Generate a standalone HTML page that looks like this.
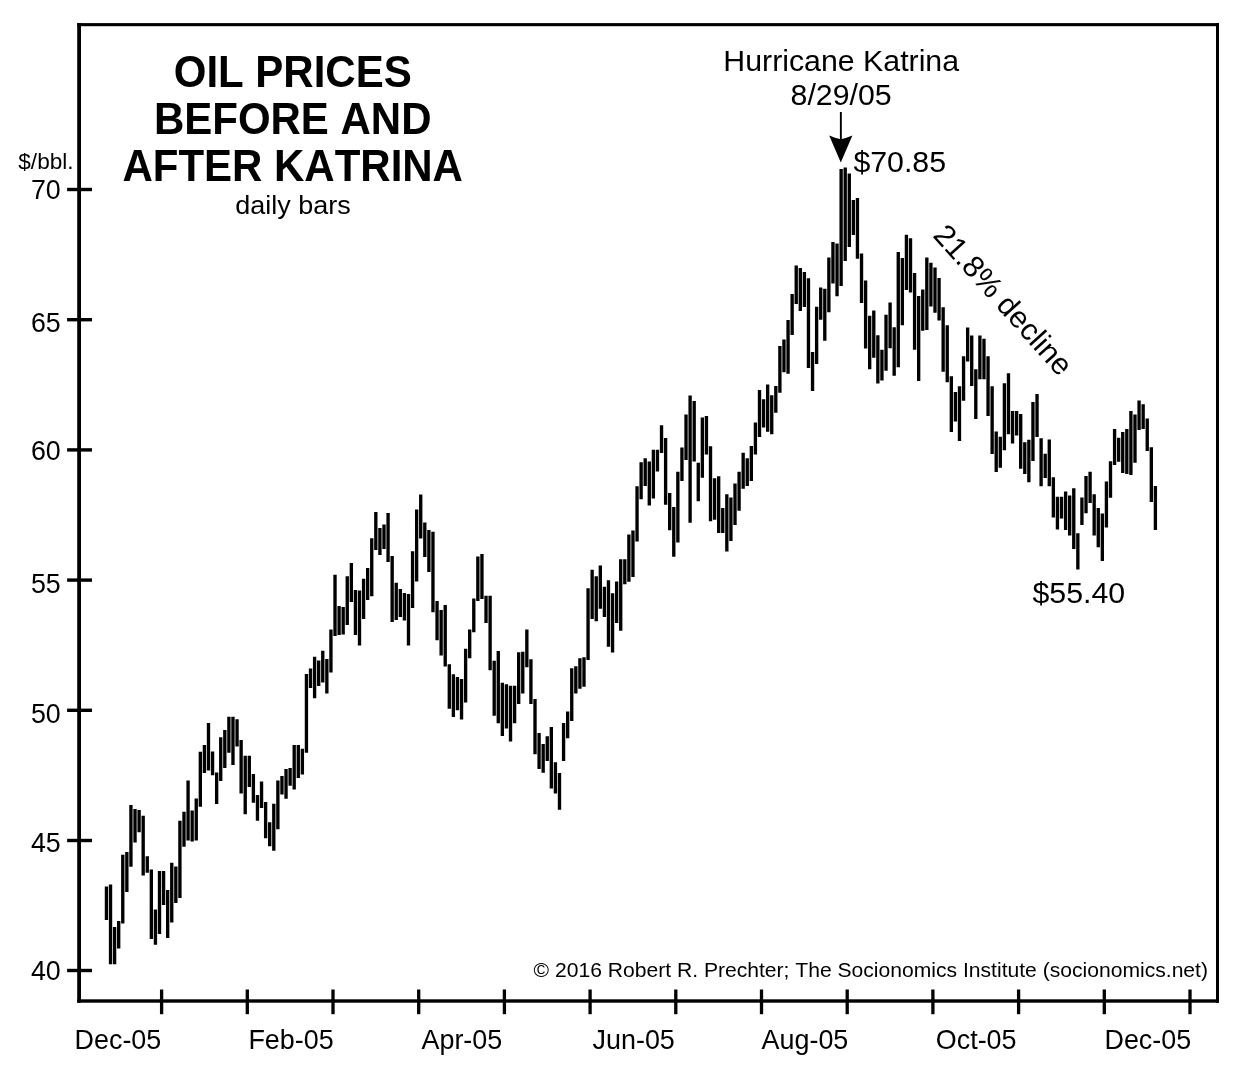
<!DOCTYPE html>
<html><head><meta charset="utf-8"><title>Oil Prices Before and After Katrina</title>
<style>
html,body{margin:0;padding:0;background:#fff;overflow:hidden;width:1244px;height:1072px;}
svg{display:block;}
text{font-family:"Liberation Sans",Arial,Helvetica,sans-serif;fill:#000;font-kerning:none;}
</style></head><body>
<svg width="1244" height="1072" viewBox="0 0 1244 1072">
<rect x="0" y="0" width="1244" height="1072" fill="#fff"/>

<g fill="#000">
<rect x="77.2" y="23.1" width="3.8" height="979.6"/>
<rect x="77.2" y="23.1" width="1141.8" height="3.1"/>
<rect x="1216" y="23.1" width="3" height="979.6"/>
<rect x="77.2" y="999.3" width="1141.8" height="3.4"/>
<rect x="67.1" y="187.8" width="24.9" height="3.4"/>
<rect x="67.1" y="318.0" width="24.9" height="3.4"/>
<rect x="67.1" y="448.2" width="24.9" height="3.4"/>
<rect x="67.1" y="578.4" width="24.9" height="3.4"/>
<rect x="67.1" y="708.6" width="24.9" height="3.4"/>
<rect x="67.1" y="838.8" width="24.9" height="3.4"/>
<rect x="67.1" y="968.8" width="24.9" height="3.4"/>
<rect x="159.95" y="989.5" width="3.3" height="24.7"/>
<rect x="245.65" y="989.5" width="3.3" height="24.7"/>
<rect x="331.35" y="989.5" width="3.3" height="24.7"/>
<rect x="417.05" y="989.5" width="3.3" height="24.7"/>
<rect x="502.75" y="989.5" width="3.3" height="24.7"/>
<rect x="588.45" y="989.5" width="3.3" height="24.7"/>
<rect x="674.15" y="989.5" width="3.3" height="24.7"/>
<rect x="759.85" y="989.5" width="3.3" height="24.7"/>
<rect x="845.55" y="989.5" width="3.3" height="24.7"/>
<rect x="931.25" y="989.5" width="3.3" height="24.7"/>
<rect x="1016.95" y="989.5" width="3.3" height="24.7"/>
<rect x="1102.65" y="989.5" width="3.3" height="24.7"/>
<rect x="1188.35" y="989.5" width="3.3" height="24.7"/>
</g>
<path fill="#000" d="M104.78 886.5h3.35V920.0h-3.35zM108.86 884.4h3.35V964.2h-3.35zM112.94 927.1h3.35V964.2h-3.35zM117.02 921.0h3.35V948.6h-3.35zM121.10 854.7h3.35V923.4h-3.35zM125.18 851.9h3.35V892.1h-3.35zM129.26 805.1h3.35V866.8h-3.35zM133.35 809.1h3.35V842.6h-3.35zM137.43 810.1h3.35V832.2h-3.35zM141.51 815.7h3.35V875.4h-3.35zM145.59 856.3h3.35V872.8h-3.35zM149.67 869.4h3.35V939.1h-3.35zM153.75 909.6h3.35V944.7h-3.35zM157.83 871.0h3.35V934.1h-3.35zM161.92 871.0h3.35V904.9h-3.35zM166.00 889.9h3.35V938.1h-3.35zM170.08 862.7h3.35V922.4h-3.35zM174.16 866.4h3.35V902.9h-3.35zM178.24 820.7h3.35V897.9h-3.35zM182.32 811.7h3.35V846.7h-3.35zM186.40 780.4h3.35V840.6h-3.35zM190.49 810.5h3.35V841.6h-3.35zM194.57 798.6h3.35V840.6h-3.35zM198.65 751.8h3.35V806.7h-3.35zM202.73 745.0h3.35V772.9h-3.35zM206.81 722.9h3.35V770.5h-3.35zM210.89 751.6h3.35V775.3h-3.35zM214.98 772.5h3.35V804.1h-3.35zM219.06 737.2h3.35V781.0h-3.35zM223.14 730.1h3.35V767.9h-3.35zM227.22 716.7h3.35V752.8h-3.35zM231.30 716.7h3.35V764.9h-3.35zM235.38 719.3h3.35V746.4h-3.35zM239.46 740.0h3.35V793.4h-3.35zM243.55 755.7h3.35V814.3h-3.35zM247.63 755.7h3.35V787.0h-3.35zM251.71 774.1h3.35V802.7h-3.35zM255.79 795.0h3.35V820.8h-3.35zM259.87 781.6h3.35V808.1h-3.35zM263.95 801.9h3.35V838.3h-3.35zM268.03 822.2h3.35V846.3h-3.35zM272.12 803.7h3.35V850.7h-3.35zM276.20 780.6h3.35V829.2h-3.35zM280.28 776.0h3.35V794.6h-3.35zM284.36 768.9h3.35V798.7h-3.35zM288.44 767.9h3.35V785.8h-3.35zM292.52 745.0h3.35V789.6h-3.35zM296.61 745.0h3.35V778.0h-3.35zM300.69 748.8h3.35V774.5h-3.35zM304.77 674.1h3.35V752.8h-3.35zM308.85 668.4h3.35V687.9h-3.35zM312.93 656.8h3.35V698.2h-3.35zM317.01 660.6h3.35V685.9h-3.35zM321.09 650.8h3.35V682.5h-3.35zM325.18 659.0h3.35V693.6h-3.35zM329.26 629.6h3.35V672.6h-3.35zM333.34 574.8h3.35V636.0h-3.35zM337.42 606.1h3.35V635.0h-3.35zM341.50 607.1h3.35V634.6h-3.35zM345.58 576.2h3.35V625.0h-3.35zM349.67 563.1h3.35V601.9h-3.35zM353.75 590.0h3.35V635.0h-3.35zM357.83 590.4h3.35V645.5h-3.35zM361.91 578.8h3.35V619.0h-3.35zM365.99 567.9h3.35V600.1h-3.35zM370.07 538.2h3.35V596.3h-3.35zM374.15 512.1h3.35V550.0h-3.35zM378.24 528.1h3.35V555.1h-3.35zM382.32 524.5h3.35V549.0h-3.35zM386.40 513.1h3.35V561.9h-3.35zM390.48 555.9h3.35V622.0h-3.35zM394.56 582.8h3.35V620.0h-3.35zM398.64 589.0h3.35V617.0h-3.35zM402.72 593.0h3.35V620.6h-3.35zM406.81 594.0h3.35V645.5h-3.35zM410.89 551.2h3.35V608.1h-3.35zM414.97 509.4h3.35V581.4h-3.35zM419.05 494.4h3.35V538.6h-3.35zM423.13 522.5h3.35V556.9h-3.35zM427.21 530.1h3.35V572.1h-3.35zM431.29 531.7h3.35V612.3h-3.35zM435.38 600.9h3.35V640.3h-3.35zM439.46 610.1h3.35V655.5h-3.35zM443.54 604.9h3.35V666.4h-3.35zM447.62 664.2h3.35V708.8h-3.35zM451.70 674.3h3.35V716.9h-3.35zM455.78 676.9h3.35V710.2h-3.35zM459.87 678.9h3.35V719.5h-3.35zM463.95 648.7h3.35V702.4h-3.35zM468.03 629.6h3.35V658.2h-3.35zM472.11 598.5h3.35V632.2h-3.35zM476.19 556.5h3.35V600.9h-3.35zM480.27 553.9h3.35V598.9h-3.35zM484.35 595.7h3.35V623.0h-3.35zM488.44 595.7h3.35V670.2h-3.35zM492.52 660.8h3.35V715.7h-3.35zM496.60 650.9h3.35V723.3h-3.35zM500.68 682.7h3.35V736.0h-3.35zM504.76 684.3h3.35V728.5h-3.35zM508.84 685.7h3.35V741.6h-3.35zM512.93 685.7h3.35V723.3h-3.35zM517.01 652.2h3.35V704.0h-3.35zM521.09 651.7h3.35V693.5h-3.35zM525.17 629.6h3.35V667.2h-3.35zM529.25 659.2h3.35V704.0h-3.35zM533.33 699.0h3.35V754.2h-3.35zM537.41 733.1h3.35V769.1h-3.35zM541.50 744.0h3.35V772.7h-3.35zM545.58 736.2h3.35V761.1h-3.35zM549.66 727.1h3.35V788.4h-3.35zM553.74 762.3h3.35V793.6h-3.35zM557.82 773.1h3.35V809.7h-3.35zM561.90 723.1h3.35V761.1h-3.35zM565.98 711.6h3.35V738.2h-3.35zM570.07 668.2h3.35V720.9h-3.35zM574.15 666.2h3.35V693.5h-3.35zM578.23 658.2h3.35V688.7h-3.35zM582.31 657.2h3.35V686.7h-3.35zM586.39 588.2h3.35V660.0h-3.35zM590.47 569.7h3.35V619.0h-3.35zM594.56 576.3h3.35V621.2h-3.35zM598.64 565.5h3.35V608.7h-3.35zM602.72 586.8h3.35V617.0h-3.35zM606.80 580.2h3.35V646.7h-3.35zM610.88 593.2h3.35V652.6h-3.35zM614.96 581.4h3.35V623.0h-3.35zM619.04 559.3h3.35V630.8h-3.35zM623.13 559.3h3.35V584.2h-3.35zM627.21 534.5h3.35V581.8h-3.35zM631.29 530.5h3.35V577.1h-3.35zM635.37 486.3h3.35V541.6h-3.35zM639.45 462.2h3.35V499.2h-3.35zM643.53 458.2h3.35V486.1h-3.35zM647.61 461.6h3.35V505.6h-3.35zM651.70 449.7h3.35V498.4h-3.35zM655.78 449.7h3.35V471.4h-3.35zM659.86 425.2h3.35V453.0h-3.35zM663.94 438.1h3.35V504.8h-3.35zM668.02 493.1h3.35V530.3h-3.35zM672.10 507.0h3.35V556.7h-3.35zM676.19 471.8h3.35V542.4h-3.35zM680.27 447.5h3.35V481.1h-3.35zM684.35 414.6h3.35V460.0h-3.35zM688.43 395.5h3.35V522.7h-3.35zM692.51 400.9h3.35V461.4h-3.35zM696.59 462.8h3.35V501.2h-3.35zM700.67 417.6h3.35V477.7h-3.35zM704.76 416.0h3.35V454.6h-3.35zM708.84 446.3h3.35V521.3h-3.35zM712.92 478.3h3.35V519.7h-3.35zM717.00 476.3h3.35V532.9h-3.35zM721.08 508.0h3.35V532.9h-3.35zM725.16 494.2h3.35V551.4h-3.35zM729.24 497.6h3.35V541.0h-3.35zM733.33 483.5h3.35V524.9h-3.35zM737.41 471.8h3.35V510.8h-3.35zM741.49 452.8h3.35V488.7h-3.35zM745.57 458.2h3.35V486.1h-3.35zM749.65 446.1h3.35V481.1h-3.35zM753.73 422.6h3.35V454.6h-3.35zM757.82 390.1h3.35V436.9h-3.35zM761.90 399.3h3.35V427.6h-3.35zM765.98 384.6h3.35V431.7h-3.35zM770.06 395.3h3.35V434.3h-3.35zM774.14 386.0h3.35V412.8h-3.35zM778.22 345.9h3.35V392.7h-3.35zM782.30 339.4h3.35V372.2h-3.35zM786.39 319.9h3.35V373.8h-3.35zM790.47 294.0h3.35V335.0h-3.35zM794.55 265.5h3.35V304.1h-3.35zM798.63 268.1h3.35V310.9h-3.35zM802.71 271.9h3.35V306.9h-3.35zM806.79 278.3h3.35V368.0h-3.35zM810.87 351.9h3.35V391.1h-3.35zM814.96 306.7h3.35V364.1h-3.35zM819.04 287.4h3.35V319.7h-3.35zM823.12 288.8h3.35V340.8h-3.35zM827.20 257.4h3.35V312.3h-3.35zM831.28 242.0h3.35V283.6h-3.35zM835.36 243.4h3.35V296.2h-3.35zM839.45 169.0h3.35V285.9h-3.35zM843.53 167.4h3.35V261.0h-3.35zM847.61 173.4h3.35V246.9h-3.35zM851.69 199.9h3.35V234.9h-3.35zM855.77 198.1h3.35V258.8h-3.35zM859.85 253.4h3.35V303.0h-3.35zM863.93 280.5h3.35V348.6h-3.35zM868.02 315.7h3.35V369.3h-3.35zM872.10 310.6h3.35V357.7h-3.35zM876.18 335.2h3.35V383.6h-3.35zM880.26 349.8h3.35V380.6h-3.35zM884.34 314.7h3.35V370.8h-3.35zM888.42 302.6h3.35V348.2h-3.35zM892.50 327.3h3.35V375.8h-3.35zM896.59 252.0h3.35V367.3h-3.35zM900.67 258.0h3.35V325.3h-3.35zM904.75 234.7h3.35V289.9h-3.35zM908.83 238.3h3.35V292.4h-3.35zM912.91 273.1h3.35V349.8h-3.35zM916.99 296.0h3.35V381.1h-3.35zM921.08 289.5h3.35V330.7h-3.35zM925.16 257.4h3.35V330.1h-3.35zM929.24 262.8h3.35V306.4h-3.35zM933.32 267.4h3.35V312.7h-3.35zM937.40 277.9h3.35V320.5h-3.35zM941.48 307.3h3.35V371.8h-3.35zM945.56 325.2h3.35V382.3h-3.35zM949.65 376.3h3.35V431.9h-3.35zM953.73 391.9h3.35V421.5h-3.35zM957.81 386.3h3.35V441.0h-3.35zM961.89 356.2h3.35V400.8h-3.35zM965.97 327.4h3.35V361.6h-3.35zM970.05 335.5h3.35V386.1h-3.35zM974.13 369.2h3.35V418.9h-3.35zM978.22 335.5h3.35V379.3h-3.35zM982.30 338.7h3.35V379.3h-3.35zM986.38 356.2h3.35V415.9h-3.35zM990.46 386.3h3.35V454.0h-3.35zM994.54 431.5h3.35V472.1h-3.35zM998.62 436.7h3.35V467.7h-3.35zM1002.71 383.3h3.35V450.2h-3.35zM1006.79 373.3h3.35V434.3h-3.35zM1010.87 411.0h3.35V443.6h-3.35zM1014.95 411.0h3.35V435.5h-3.35zM1019.03 414.0h3.35V468.7h-3.35zM1023.11 442.2h3.35V474.1h-3.35zM1027.19 439.8h3.35V482.2h-3.35zM1031.28 402.0h3.35V461.1h-3.35zM1035.36 393.9h3.35V436.9h-3.35zM1039.44 438.2h3.35V486.2h-3.35zM1043.52 453.8h3.35V478.1h-3.35zM1047.60 439.6h3.35V486.2h-3.35zM1051.68 477.3h3.35V517.5h-3.35zM1055.76 496.8h3.35V529.6h-3.35zM1059.85 496.8h3.35V518.5h-3.35zM1063.93 491.4h3.35V530.0h-3.35zM1068.01 495.4h3.35V535.6h-3.35zM1072.09 488.2h3.35V549.1h-3.35zM1076.17 533.2h3.35V569.6h-3.35zM1080.25 497.4h3.35V525.0h-3.35zM1084.34 475.9h3.35V513.3h-3.35zM1088.42 471.7h3.35V502.9h-3.35zM1092.50 494.2h3.35V535.6h-3.35zM1096.58 508.1h3.35V547.3h-3.35zM1100.66 513.5h3.35V561.1h-3.35zM1104.74 481.4h3.35V527.6h-3.35zM1108.82 461.3h3.35V497.8h-3.35zM1112.91 429.1h3.35V465.1h-3.35zM1116.99 437.8h3.35V461.7h-3.35zM1121.07 432.1h3.35V473.1h-3.35zM1125.15 429.1h3.35V474.1h-3.35zM1129.23 411.0h3.35V475.1h-3.35zM1133.31 414.6h3.35V462.7h-3.35zM1137.39 400.4h3.35V429.9h-3.35zM1141.48 404.2h3.35V428.9h-3.35zM1145.56 418.5h3.35V451.0h-3.35zM1149.64 447.2h3.35V501.9h-3.35zM1153.72 486.0h3.35V530.0h-3.35z"/>
<text transform="translate(60.7 198.8)" font-size="26.8" text-anchor="end">70</text>
<text transform="translate(60.7 331.7)" font-size="26.8" text-anchor="end">65</text>
<text transform="translate(60.7 460.1)" font-size="26.8" text-anchor="end">60</text>
<text transform="translate(60.7 593.3)" font-size="26.8" text-anchor="end">55</text>
<text transform="translate(60.7 723.1)" font-size="26.8" text-anchor="end">50</text>
<text transform="translate(60.7 851.9)" font-size="26.8" text-anchor="end">45</text>
<text transform="translate(60.7 980.0)" font-size="26.8" text-anchor="end">40</text>
<text transform="translate(18.3 169) scale(1.0 0.95)" font-size="22.6">$/bbl.</text>
<text transform="translate(74.6 1048.7)" font-size="26.9">Dec-05</text>
<text transform="translate(248.4 1048.7)" font-size="26.9">Feb-05</text>
<text transform="translate(421.5 1048.7)" font-size="26.9">Apr-05</text>
<text transform="translate(592.6 1048.7)" font-size="26.9">Jun-05</text>
<text transform="translate(761.6 1048.7)" font-size="26.9">Aug-05</text>
<text transform="translate(935.8 1048.7)" font-size="26.9">Oct-05</text>
<text transform="translate(1104.5 1048.7)" font-size="26.9">Dec-05</text>
<text transform="translate(292.7 87.0) scale(1.0 1.04)" font-size="42.0" text-anchor="middle" font-weight="bold">OIL PRICES</text>
<text transform="translate(292.7 134.4) scale(1.0 1.04)" font-size="42.0" text-anchor="middle" font-weight="bold">BEFORE AND</text>
<text transform="translate(292.7 181.3) scale(1.0 1.04)" font-size="42.0" text-anchor="middle" font-weight="bold">AFTER KATRINA</text>
<text transform="translate(292.9 214.3) scale(1.0 0.97)" font-size="27.0" text-anchor="middle">daily bars</text>
<text transform="translate(841.2 71.1)" font-size="30.3" text-anchor="middle">Hurricane Katrina</text>
<text transform="translate(841.1 104.6)" font-size="30.3" text-anchor="middle">8/29/05</text>
<rect x="839.9" y="112" width="1.9" height="32" fill="#000"/>
<path d="M829.2 135.6 Q835 138.2 840.8 139.2 Q846.6 138.2 852.4 135.6 L840.8 162.6 Z" fill="#000"/>
<text transform="translate(853.4 171.8)" font-size="30.3">$70.85</text>
<text transform="translate(1032.5 602.6)" font-size="30.3">$55.40</text>
<text transform="translate(932 236) rotate(48)" font-size="30.3">21.8% decline</text>
<text transform="translate(1208 976.6)" font-size="21.1" text-anchor="end">© 2016 Robert R. Prechter; The Socionomics Institute (socionomics.net)</text>
</svg></body></html>
